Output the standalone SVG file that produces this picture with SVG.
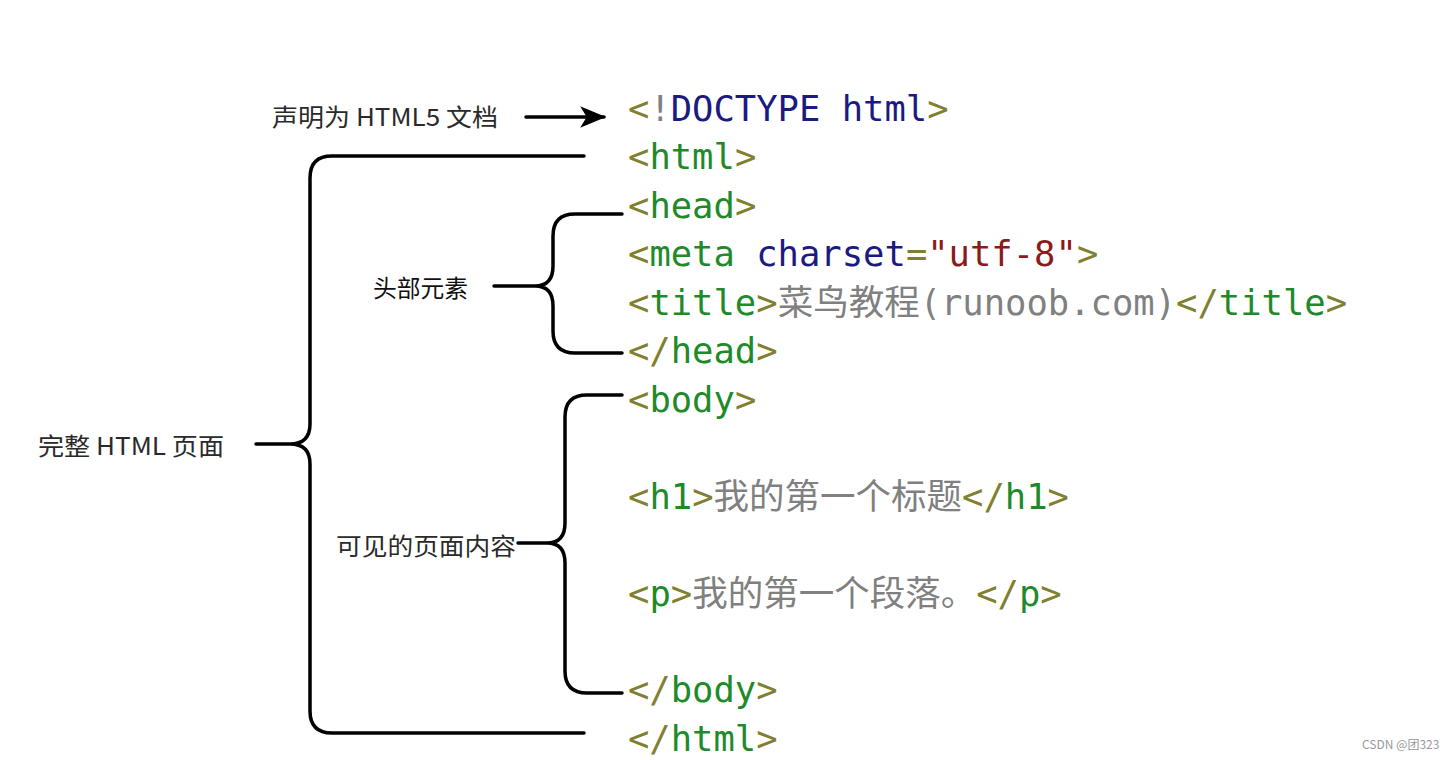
<svg xmlns="http://www.w3.org/2000/svg" width="1454" height="760" viewBox="0 0 1454 760">
<style>
.code{font-family:"DejaVu Sans Mono","Noto Sans CJK SC",monospace;font-size:35.5px}
.p{fill:#808030}
.t{fill:#1e8a2a}
.k{fill:#1a1a80}
.s{fill:#8b1a1a}
.c{fill:#808080}
.lbl{font-family:"Noto Sans CJK SC","Noto Sans",sans-serif;font-size:24px;fill:#2a2a2a}
.br{fill:none;stroke:#000;stroke-width:3.5;stroke-linecap:round;stroke-linejoin:round}
</style>
<defs>
<marker id="ah" viewBox="0 0 12 10" refX="11" refY="5" markerWidth="26" markerHeight="22" markerUnits="userSpaceOnUse" orient="auto">
<path d="M0,0 L12,5 L0,10 L3,5 z" fill="#000"/>
</marker>
</defs>
<rect width="1454" height="760" fill="#fff"/>
<g id="connectors">
<path class="br" d="M526,117 H604" marker-end="url(#ah)"/>
<path class="br" d="M584,156 H332 Q310,156 310,178 V424 Q310,444 290,444 Q310,444 310,464 V711 Q310,733 332,733 H584 M256,444 H290"/>
<path class="br" d="M622,214 H575 Q553,214 553,236 V266 Q553,286 535,286 Q553,286 553,306 V331 Q553,353 575,353 H622 M494,286 H535"/>
<path class="br" d="M622,395 H587 Q565,395 565,417 V523 Q565,543 547,543 Q565,543 565,563 V671 Q565,693 587,693 H622 M518,543 H547"/>
</g>
<g id="label-doctype"><text class="lbl" x="272" y="126" textLength="226" lengthAdjust="spacingAndGlyphs">声明为 HTML5 文档</text></g>
<g id="label-head"><text class="lbl" x="373" y="297" style="fill:#111" textLength="95" lengthAdjust="spacingAndGlyphs">头部元素</text></g>
<g id="label-page"><text class="lbl" x="38" y="455" textLength="186" lengthAdjust="spacingAndGlyphs">完整 HTML 页面</text></g>
<g id="label-body"><text class="lbl" x="336" y="555" textLength="180" lengthAdjust="spacingAndGlyphs">可见的页面内容</text></g>
<g id="code">
<text class="code" x="628" y="120.5"><tspan class="p">&lt;</tspan><tspan class="c">!</tspan><tspan class="k">DOCTYPE html</tspan><tspan class="p">&gt;</tspan></text>
<text class="code" x="628" y="169"><tspan class="p">&lt;</tspan><tspan class="t">html</tspan><tspan class="p">&gt;</tspan></text>
<text class="code" x="628" y="217.5"><tspan class="p">&lt;</tspan><tspan class="t">head</tspan><tspan class="p">&gt;</tspan></text>
<text class="code" x="628" y="266"><tspan class="p">&lt;</tspan><tspan class="t">meta</tspan> <tspan class="k">charset</tspan><tspan class="p">=</tspan><tspan class="s">"utf-8"</tspan><tspan class="p">&gt;</tspan></text>
<text class="code" x="628" y="314.5"><tspan class="p">&lt;</tspan><tspan class="t">title</tspan><tspan class="p">&gt;</tspan><tspan class="c">菜鸟教程(runoob.com)</tspan><tspan class="p">&lt;/</tspan><tspan class="t">title</tspan><tspan class="p">&gt;</tspan></text>
<text class="code" x="628" y="363"><tspan class="p">&lt;/</tspan><tspan class="t">head</tspan><tspan class="p">&gt;</tspan></text>
<text class="code" x="628" y="411.5"><tspan class="p">&lt;</tspan><tspan class="t">body</tspan><tspan class="p">&gt;</tspan></text>
<text class="code" x="628" y="508.5"><tspan class="p">&lt;</tspan><tspan class="t">h1</tspan><tspan class="p">&gt;</tspan><tspan class="c">我的第一个标题</tspan><tspan class="p">&lt;/</tspan><tspan class="t">h1</tspan><tspan class="p">&gt;</tspan></text>
<text class="code" x="628" y="605.5"><tspan class="p">&lt;</tspan><tspan class="t">p</tspan><tspan class="p">&gt;</tspan><tspan class="c">我的第一个段落。</tspan><tspan class="p">&lt;/</tspan><tspan class="t">p</tspan><tspan class="p">&gt;</tspan></text>
<text class="code" x="628" y="702"><tspan class="p">&lt;/</tspan><tspan class="t">body</tspan><tspan class="p">&gt;</tspan></text>
<text class="code" x="628" y="750.5"><tspan class="p">&lt;/</tspan><tspan class="t">html</tspan><tspan class="p">&gt;</tspan></text>
</g>
<g id="watermark"><text x="1362" y="749" style="font-family:'Noto Sans CJK SC','Noto Sans',sans-serif;font-size:12px;fill:#999">CSDN @团323</text></g>
</svg>
